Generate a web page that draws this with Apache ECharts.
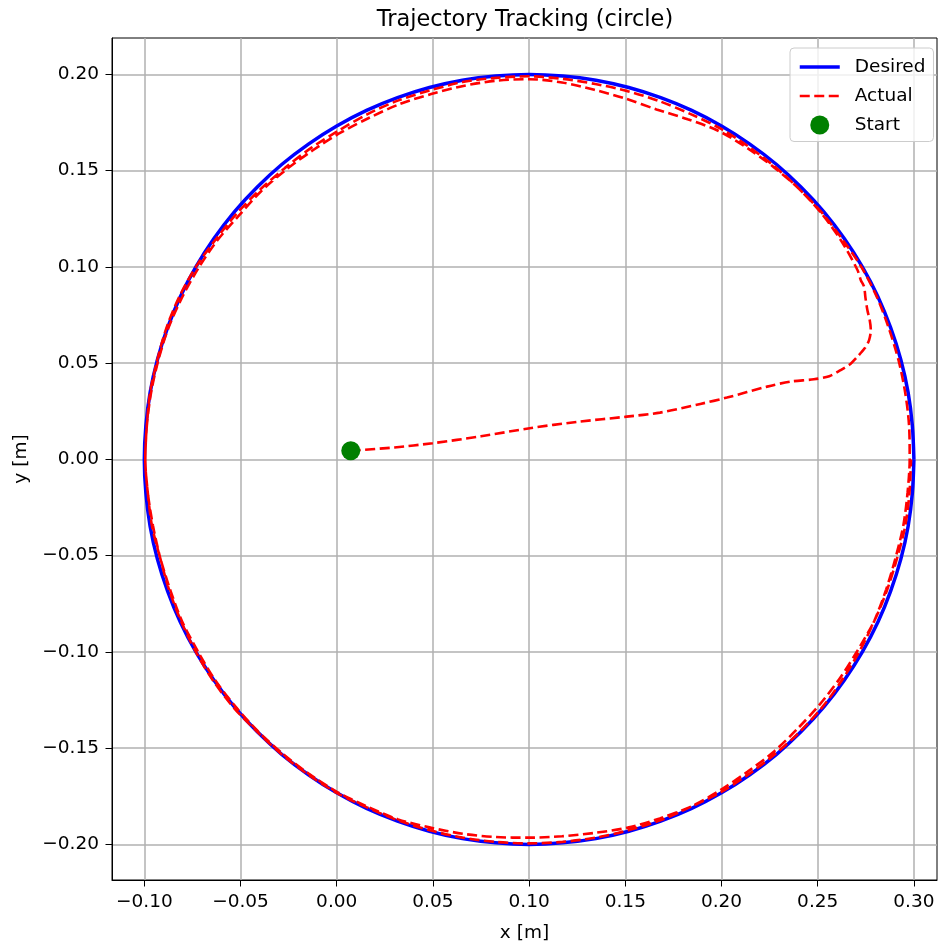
<!DOCTYPE html>
<html>
<head>
<meta charset="utf-8">
<title>Trajectory Tracking (circle)</title>
<script src="https://cdn.jsdelivr.net/npm/echarts@6/dist/echarts.min.js"></script>
<style>
html,body{margin:0;padding:0;background:#fff;}
#main{width:938px;height:941px;}
</style>
</head>
<body>
<div id="main"></div>
<script>
// desired circle (centre 0.10, 0.00, radius 0.20), every 5 deg
var desired = [
	[0.3000,0.0000],[0.2992,0.0174],[0.2970,0.0347],[0.2932,0.0518],[0.2879,0.0684],[0.2813,0.0845],
	[0.2732,0.1000],[0.2638,0.1147],[0.2532,0.1286],[0.2414,0.1414],[0.2286,0.1532],[0.2147,0.1638],
	[0.2000,0.1732],[0.1845,0.1813],[0.1684,0.1879],[0.1518,0.1932],[0.1347,0.1970],[0.1174,0.1992],
	[0.1000,0.2000],[0.0826,0.1992],[0.0653,0.1970],[0.0482,0.1932],[0.0316,0.1879],[0.0155,0.1813],
	[0.0000,0.1732],[-0.0147,0.1638],[-0.0286,0.1532],[-0.0414,0.1414],[-0.0532,0.1286],[-0.0638,0.1147],
	[-0.0732,0.1000],[-0.0813,0.0845],[-0.0879,0.0684],[-0.0932,0.0518],[-0.0970,0.0347],[-0.0992,0.0174],
	[-0.1000,0.0000],[-0.0992,-0.0174],[-0.0970,-0.0347],[-0.0932,-0.0518],[-0.0879,-0.0684],[-0.0813,-0.0845],
	[-0.0732,-0.1000],[-0.0638,-0.1147],[-0.0532,-0.1286],[-0.0414,-0.1414],[-0.0286,-0.1532],[-0.0147,-0.1638],
	[0.0000,-0.1732],[0.0155,-0.1813],[0.0316,-0.1879],[0.0482,-0.1932],[0.0653,-0.1970],[0.0826,-0.1992],
	[0.1000,-0.2000],[0.1174,-0.1992],[0.1347,-0.1970],[0.1518,-0.1932],[0.1684,-0.1879],[0.1845,-0.1813],
	[0.2000,-0.1732],[0.2147,-0.1638],[0.2286,-0.1532],[0.2414,-0.1414],[0.2532,-0.1286],[0.2638,-0.1147],
	[0.2732,-0.1000],[0.2813,-0.0845],[0.2879,-0.0684],[0.2932,-0.0518],[0.2970,-0.0347],[0.2992,-0.0174],
	[0.3000,0.0000]
];

// actual path: run-in from the start point, then two laps
var approach = [
	[0.0073,0.0045],[0.0300,0.0062],[0.0498,0.0084],[0.0750,0.0120],[0.1003,0.0162],[0.1250,0.0195],
	[0.1507,0.0222],[0.1680,0.0243],[0.1890,0.0288],[0.2028,0.0321],[0.2237,0.0378],[0.2358,0.0404],
	[0.2480,0.0416],[0.2560,0.0432],[0.2619,0.0464],[0.2670,0.0496],[0.2706,0.0533],[0.2745,0.0578],
	[0.2767,0.0620],[0.2776,0.0672],[0.2770,0.0725],[0.2758,0.0776],[0.2748,0.0840],[0.2741,0.0897],
	[0.2724,0.0931]
];
var lap1 = [
	[0.2706,0.0985],[0.2622,0.1136],[0.2521,0.1276],[0.2404,0.1404],[0.2273,0.1517],[0.2133,0.1618],
	[0.1985,0.1706],[0.1824,0.1767],[0.1662,0.1818],[0.1502,0.1874],[0.1339,0.1920],[0.1171,0.1958],
	[0.1000,0.1975],[0.0828,0.1967],[0.0658,0.1940],[0.0491,0.1898],[0.0328,0.1846],[0.0172,0.1776],
	[0.0020,0.1697],[-0.0124,0.1606],[-0.0263,0.1505],[-0.0393,0.1393],[-0.0509,0.1266],[-0.0622,0.1136],
	[-0.0719,0.0993],[-0.0804,0.0841],[-0.0875,0.0682],[-0.0927,0.0516],[-0.0965,0.0346],[-0.0987,0.0174],
	[-0.0995,0.0000],[-0.0982,-0.0173],[-0.0960,-0.0346],[-0.0917,-0.0514],[-0.0865,-0.0679],[-0.0804,-0.0841],
	[-0.0723,-0.0995],[-0.0634,-0.1144],[-0.0528,-0.1282],[-0.0411,-0.1411],[-0.0282,-0.1528],[-0.0144,-0.1634],
	[0.0003,-0.1728],[0.0159,-0.1804],[0.0319,-0.1870],[0.0488,-0.1913],[0.0657,-0.1945],[0.0828,-0.1962],
	[0.1000,-0.1965],[0.1171,-0.1958],[0.1342,-0.1940],[0.1512,-0.1913],[0.1679,-0.1865],[0.1841,-0.1804],
	[0.1998,-0.1728],[0.2144,-0.1634],[0.2282,-0.1528],[0.2411,-0.1411],[0.2528,-0.1282],[0.2630,-0.1141],
	[0.2719,-0.0993],[0.2795,-0.0837],[0.2856,-0.0675],[0.2905,-0.0510],[0.2945,-0.0343],[0.2967,-0.0172],
	[0.2978,0.0000],[0.2975,0.0173],[0.2955,0.0345],[0.2920,0.0515],[0.2870,0.0680]
];
var lap2 = [
	[0.2808,0.0843],[0.2728,0.0998],[0.2630,0.1141],[0.2524,0.1279],[0.2404,0.1404],[0.2276,0.1521],
	[0.2139,0.1626],[0.1993,0.1719],[0.1837,0.1795],[0.1677,0.1861],[0.1512,0.1913],[0.1344,0.1950],
	[0.1173,0.1977],[0.1000,0.1990],[0.0827,0.1982],[0.0654,0.1960],[0.0486,0.1917],[0.0321,0.1865],
	[0.0163,0.1795],[0.0013,0.1710],[-0.0133,0.1618],[-0.0270,0.1513],[-0.0400,0.1400],[-0.0521,0.1276],
	[-0.0630,0.1141],[-0.0732,0.1000],[-0.0817,0.0847],[-0.0884,0.0686],[-0.0932,0.0518],[-0.0970,0.0347],
	[-0.0987,0.0174],[-0.0995,0.0000],[-0.0982,-0.0173],[-0.0955,-0.0345],[-0.0917,-0.0514],[-0.0870,-0.0681],
	[-0.0808,-0.0843],[-0.0732,-0.1000],[-0.0642,-0.1150],[-0.0536,-0.1289],[-0.0414,-0.1414],[-0.0286,-0.1532],
	[-0.0147,-0.1638],[0.0000,-0.1732],[0.0157,-0.1808],[0.0318,-0.1875],[0.0484,-0.1927],[0.0654,-0.1965],
	[0.0826,-0.1987],[0.1000,-0.1995],[0.1174,-0.1987],[0.1346,-0.1965],[0.1516,-0.1927],[0.1682,-0.1875],
	[0.1841,-0.1804],[0.1993,-0.1719],[0.2136,-0.1622],[0.2273,-0.1517],[0.2397,-0.1397],[0.2513,-0.1270],
	[0.2618,-0.1133],[0.2710,-0.0988],[0.2795,-0.0837],[0.2861,-0.0677],[0.2913,-0.0512],[0.2955,-0.0345],
	[0.2977,-0.0173],[0.2985,0.0000]
];
var startPoint = [[0.0073,0.0045]];

var xTicks = [-0.10,-0.05,0.00,0.05,0.10,0.15,0.20,0.25,0.30];
var yTicks = [-0.20,-0.15,-0.10,-0.05,0.00,0.05,0.10,0.15,0.20];
var xRange = [-0.1168,0.3120];
var yRange = [-0.2185,0.2189];

var FONT = 'DejaVu Sans';
var BLUE_W = 3.5, RED_W = 2.6, RED_DASH = [10,4.5];

function tickText(v){
	var near = Math.round(v/0.05)*0.05;
	if(Math.abs(v-near)>1e-6) return '';
	var s = Math.abs(near).toFixed(2);
	return near < -1e-9 ? '\u2212'+s : s;
}

function axisOf(range,ticks,name,gap){
	return {
		type:'value',
		min:range[0],max:range[1],
		minInterval:0.05,maxInterval:0.05,
		name:name,nameLocation:'middle',nameGap:gap,
		nameTextStyle:{fontFamily:FONT,fontSize:18.5,color:'#000'},
		axisLine:{show:true,onZero:false,lineStyle:{color:'#000',width:1}},
		axisTick:{show:true,inside:false,length:6.5,lineStyle:{color:'#000',width:1},customValues:ticks},
		axisLabel:{show:true,margin:13,fontFamily:FONT,fontSize:18.5,color:'#000',formatter:tickText,customValues:ticks,showMinLabel:true,showMaxLabel:true},
		splitLine:{show:true,lineStyle:{color:'#b0b0b0',width:1.5}}
	};
}

var chart = echarts.init(document.getElementById('main'),null,{renderer:'canvas'});
var actual = approach.concat(lap1,lap2);

chart.setOption({
	animation:false,
	backgroundColor:'#fff',
	title:{
		text:'Trajectory Tracking (circle)',
		left:520,top:4,textAlign:'center',
		textStyle:{fontFamily:FONT,fontSize:22.5,fontWeight:'normal',color:'#000'}
	},
	grid:{left:112,right:1,top:38,bottom:61,outerBoundsMode:'none',containLabel:false,
		show:true,borderColor:'#000',borderWidth:1,backgroundColor:'#fff'},
	legend:{
		orient:'vertical',left:790,top:48,
		padding:[9.5,8,7,8],
		itemWidth:40,itemHeight:19,itemGap:10,
		backgroundColor:'rgba(255,255,255,0.8)',
		borderColor:'#cccccc',borderWidth:1,borderRadius:4,
		textStyle:{fontFamily:FONT,fontSize:18.5,color:'#000',padding:[0,0,0,10]},
		data:[
			{name:'Desired',itemStyle:{opacity:0},lineStyle:{color:'#0000ff',width:BLUE_W}},
			{name:'Actual',itemStyle:{opacity:0},lineStyle:{color:'#ff0000',width:RED_W,type:RED_DASH}},
			{name:'Start',icon:'circle'}
		]
	},
	xAxis:axisOf(xRange,xTicks,'x [m]',44),
	yAxis:axisOf(yRange,yTicks,'y [m]',81),
	series:[
		{
			name:'Desired',type:'line',data:desired,
			smooth:0.3,symbol:'none',
			lineStyle:{color:'#0000ff',width:BLUE_W},itemStyle:{color:'#0000ff'},z:2
		},
		{
			name:'Actual',type:'line',data:actual,
			smooth:0.3,symbol:'none',
			lineStyle:{color:'#ff0000',width:RED_W,type:RED_DASH},itemStyle:{color:'#ff0000'},z:3
		},
		{
			name:'Start',type:'scatter',data:startPoint,
			symbol:'circle',symbolSize:19,
			itemStyle:{color:'#008000',opacity:1},z:4
		}
	]
});
</script>
</body>
</html>
